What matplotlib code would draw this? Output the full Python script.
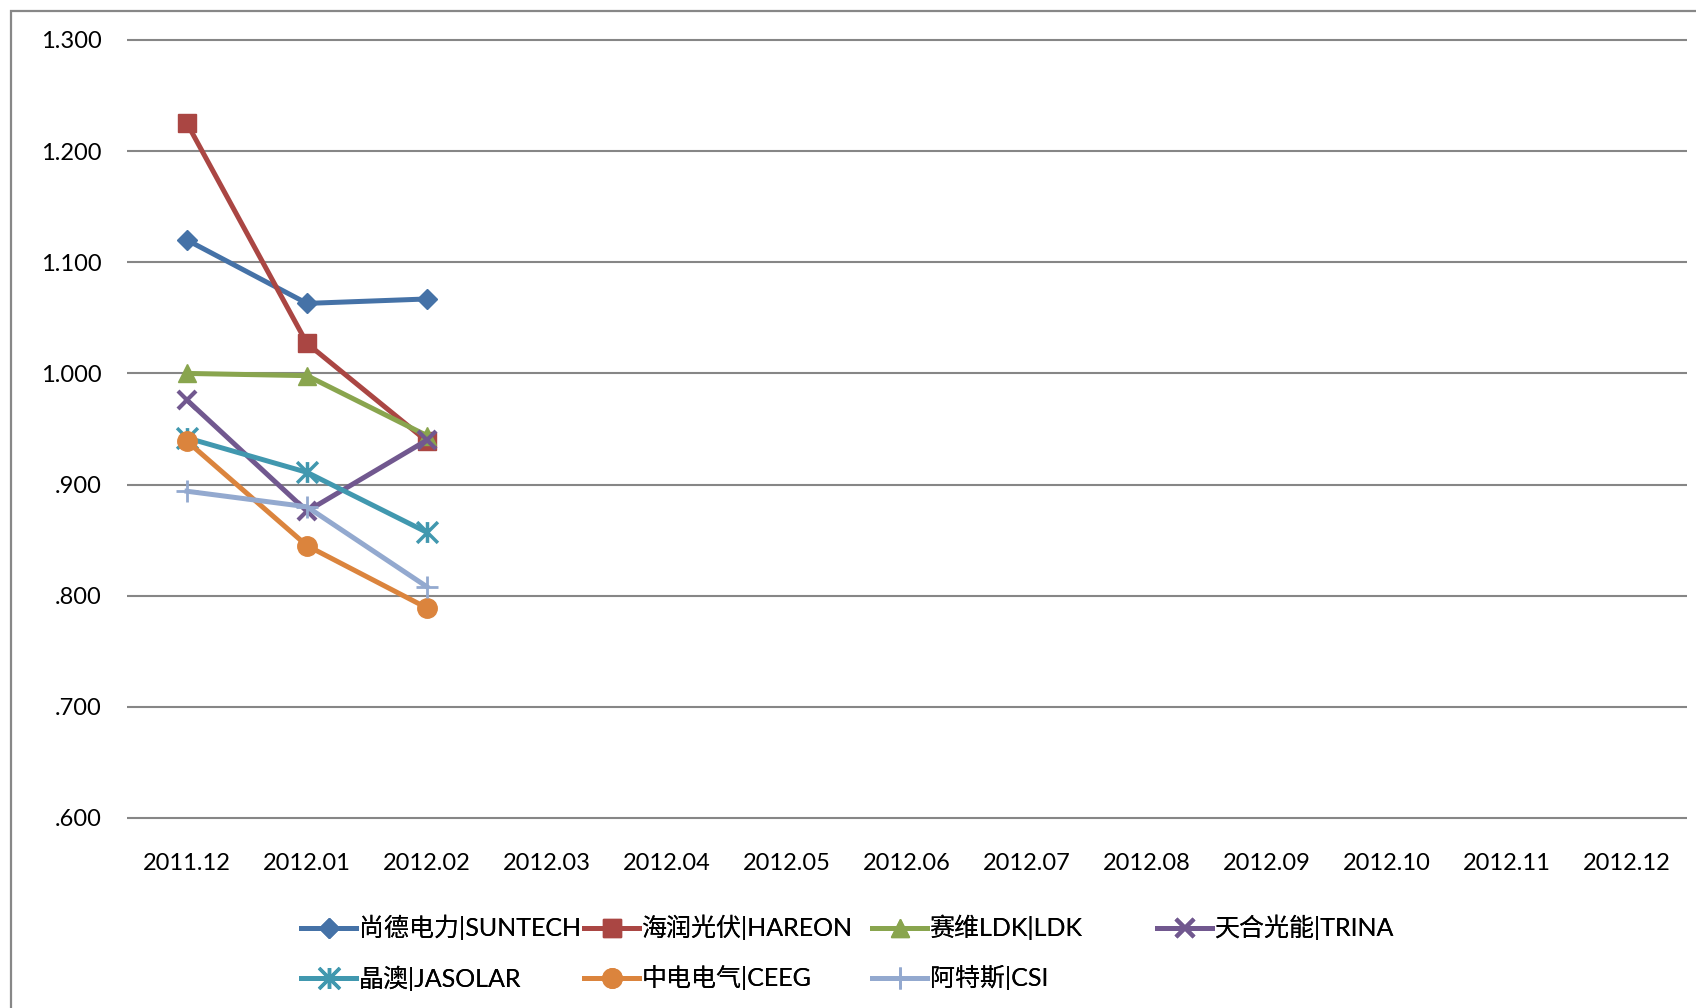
import matplotlib
matplotlib.use("Agg")
import matplotlib.pyplot as plt
from matplotlib.path import Path
from matplotlib.patches import Rectangle
from matplotlib.ticker import FuncFormatter

plt.rcParams["font.family"] = ["Lato", "Noto Sans CJK SC", "DejaVu Sans"]

months = ["2011.12", "2012.01", "2012.02", "2012.03", "2012.04", "2012.05", "2012.06",
          "2012.07", "2012.08", "2012.09", "2012.10", "2012.11", "2012.12"]

suntech = [1.120, 1.063, 1.067]
hareon = [1.225, 1.027, 0.939]
ldk = [1.000, 0.998, 0.944]
trina = [0.976, 0.876, 0.940]
jasolar = [0.942, 0.911, 0.857]
ceeg = [0.939, 0.845, 0.789]
csi = [0.894, 0.880, 0.808]

labels = ["尚德电力|SUNTECH", "海润光伏|HAREON", "赛维LDK|LDK", "天合光能|TRINA",
          "晶澳|JASOLAR", "中电电气|CEEG", "阿特斯|CSI"]
y_ticks = [0.6, 0.7, 0.8, 0.9, 1.0, 1.1, 1.2, 1.3]

# excel-style star marker: an x with a vertical bar through it
star = Path([(-1, -1), (1, 1), (-1, 1), (1, -1), (0, -1), (0, 1)],
            [Path.MOVETO, Path.LINETO, Path.MOVETO, Path.LINETO, Path.MOVETO, Path.LINETO])

styles = [
    dict(color="#4572A7", marker="D", ms=10),
    dict(color="#AA4643", marker="s", ms=13),
    dict(color="#89A54E", marker="^", ms=13),
    dict(color="#71588F", marker="x", ms=13, mew=3),
    dict(color="#4198AF", marker=star, ms=15, mew=2.5, mfc="none"),
    dict(color="#DB843D", marker="o", ms=14),
    dict(color="#93A9CF", marker="+", ms=16, mew=2),
]
series = [suntech, hareon, ldk, trina, jasolar, ceeg, csi]

fig = plt.figure(figsize=(16.96, 10.08), dpi=100)
ax = fig.add_axes([127 / 1696, 1 - 818 / 1008, 1560 / 1696, 778 / 1008])

x = list(range(len(months)))
lines = []
for vals, lab, st in zip(series, labels, styles):
    st = dict(st)
    if "mew" not in st:
        st["mew"] = 1
    ln, = ax.plot(x[:len(vals)], vals, lw=3.6, label=lab, mec=st["color"],
                  clip_on=False, zorder=3, **st)
    lines.append(ln)

ax.set_xlim(-0.5, len(months) - 0.5)
ax.set_ylim(0.6, 1.3)
ax.hlines(y_ticks, -0.5, len(months) - 0.5, color="#868686", lw=1.5, clip_on=False, zorder=1)
for s in ax.spines.values():
    s.set_visible(False)

ax.set_xticks(x)
ax.set_xticklabels(months)
ax.set_yticks(y_ticks)
ax.yaxis.set_major_formatter(FuncFormatter(lambda v, p: f"{v:.3f}".lstrip("0")))
ax.tick_params(axis="y", length=0, pad=18, labelsize=17)
ax.tick_params(axis="x", length=0, pad=25, labelsize=17)

# outer chart border (only the top/left edges are visible in the crop)
fig.patches.append(Rectangle((11 / 1696, -0.1), 1.2, 1 - 11 / 1008 + 0.1,
                             transform=fig.transFigure, fill=False,
                             edgecolor="#878787", lw=1.6))

# excel lays the legend out in equal-width columns, so one legend per column
col_x = [301, 584, 872, 1157]
cols = [[0, 4], [1, 5], [2, 6], [3]]
for cx, idx in zip(col_x, cols):
    leg = fig.legend([lines[i] for i in idx], [labels[i] for i in idx],
                     loc="upper left", bbox_to_anchor=(cx / 1696, 1 - 915 / 1008),
                     frameon=False, fontsize=18, handlelength=2.2, handletextpad=0.1,
                     borderpad=0, borderaxespad=0, labelspacing=1.0, numpoints=1)
    fig.add_artist(leg)

fig.savefig("out.png", dpi=100)
